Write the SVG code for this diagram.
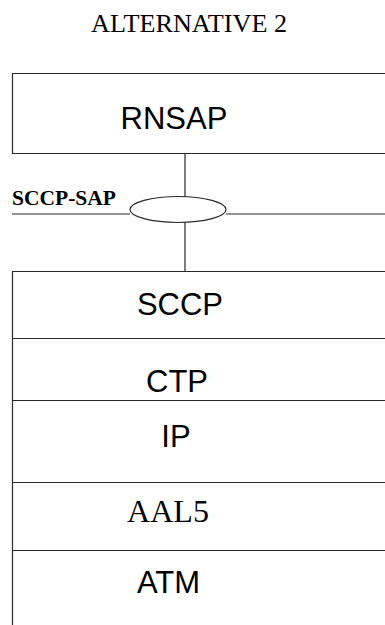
<svg xmlns="http://www.w3.org/2000/svg" width="385" height="625" viewBox="0 0 385 625">
<style>
.ln{stroke:#2a2a2a;stroke-width:1.2;fill:none}
.sans{font-family:"Liberation Sans",Arial,sans-serif;font-size:31px;fill:#000;text-anchor:middle}
.serif{font-family:"Liberation Serif","Times New Roman",serif;fill:#000}
</style>
<rect width="385" height="625" fill="#fff"/>
<text id="title" class="serif" x="189" y="31.5" font-size="25" text-anchor="middle" textLength="196" lengthAdjust="spacingAndGlyphs">ALTERNATIVE 2</text>
<g id="rnsap">
  <path class="ln" d="M390 73.5H12.5V153.5H390"/>
  <text class="sans" x="174" y="129">RNSAP</text>
</g>
<g id="sccp-sap">
  <path class="ln" d="M12 214H130M226 214H390"/>
  <ellipse class="ln" cx="178" cy="209.5" rx="48" ry="13"/>
  <text class="serif" x="12" y="205" font-size="21.5" font-weight="bold">SCCP-SAP</text>
</g>
<g id="connectors">
  <path class="ln" d="M185 153.5V197M185 222V271.5"/>
</g>
<g id="stack">
  <path class="ln" d="M390 271.5H12.5V625"/>
  <path class="ln" d="M12 338.5H390M12 400.5H390M12 482.5H390M12 550.5H390"/>
</g>
<g id="sccp"><text class="sans" x="180" y="315">SCCP</text></g>
<g id="ctp"><text class="sans" x="177" y="391.5">CTP</text></g>
<g id="ip"><text class="sans" x="176" y="446.5">IP</text></g>
<g id="aal5"><text class="serif" x="168" y="521.5" font-size="32" text-anchor="middle">AAL5</text></g>
<g id="atm"><text class="sans" x="168.5" y="593">ATM</text></g>
</svg>
